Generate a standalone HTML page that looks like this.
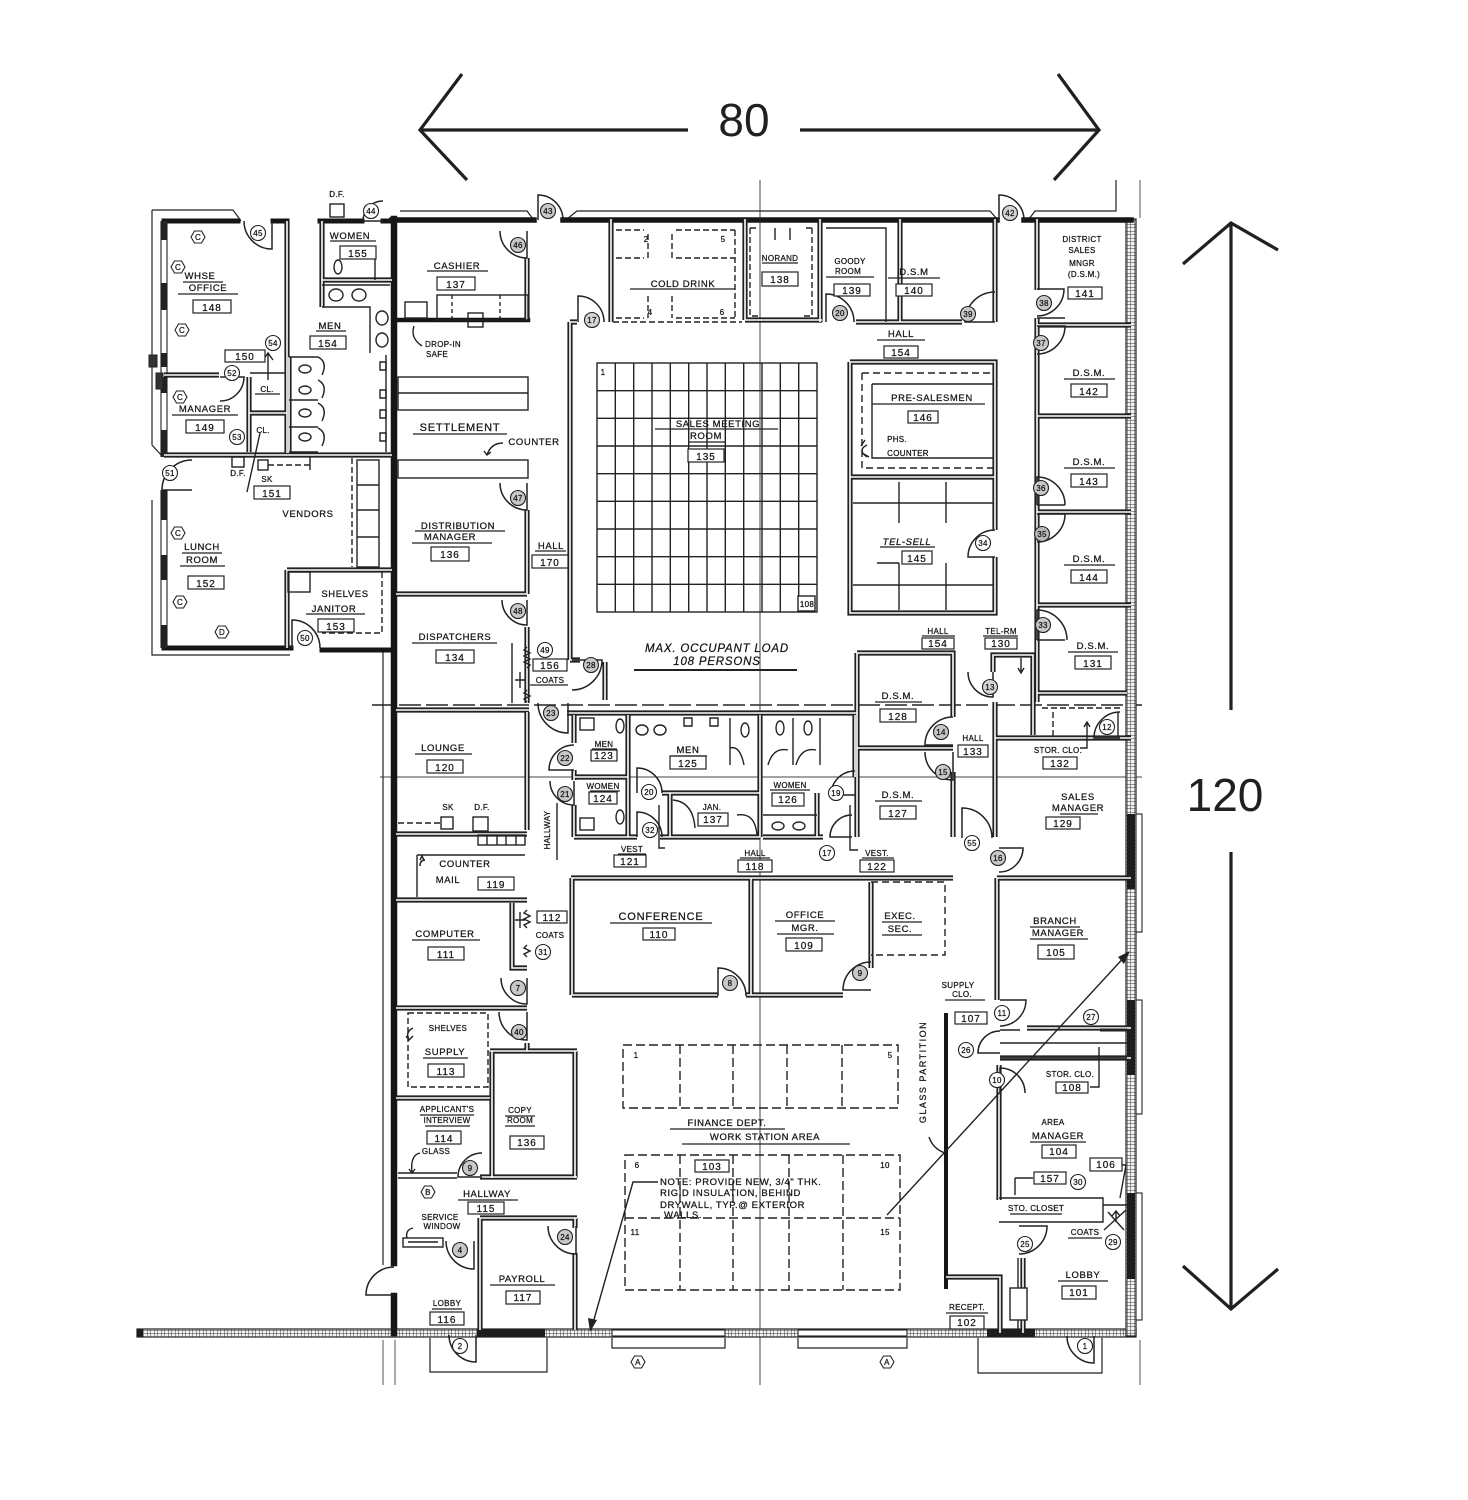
<!DOCTYPE html>
<html><head><meta charset="utf-8">
<style>
html,body{margin:0;padding:0;background:#fff;}
svg{display:block;}
text{font-family:"Liberation Sans",sans-serif;fill:#151515;stroke:#151515;stroke-width:0.25px;}
.l{font-size:11px;letter-spacing:0.8px;text-anchor:middle;}
.s{font-size:9.5px;letter-spacing:0.6px;text-anchor:middle;}
.c{font-size:8px;letter-spacing:0.3px;text-anchor:middle;}
.b{font-size:10px;letter-spacing:1px;text-anchor:middle;}
.i{font-style:italic;}
.big{stroke:none;fill:#231f20;}
</style></head><body>
<svg width="1468" height="1500" viewBox="0 0 1468 1500" xmlns="http://www.w3.org/2000/svg">
<defs>
<pattern id="hx" width="3.5" height="3.5" patternUnits="userSpaceOnUse">
<rect width="3.5" height="3.5" fill="#f4f4f4"/>
<path d="M0,0 V3.5 M0,0 H3.5" stroke="#3a3a3a" stroke-width="1"/>
</pattern>
<path id="dr" d="M0,0 L0,-1 A1,1 0 0 1 1,0" vector-effect="non-scaling-stroke"/>
<g id="dw">
<path d="M287,221 V453 M164,455 H392 M164,375 H219 M249,377 V452 M249,413 H287 M322,221 V307 M322,280 H392 M289,357 V453 M287,570 H392 M287,570 V648"/>
<path d="M527,258 V320 M527,510 V594 M396,594 H527 M527,627 V703 M396,710 H529 M527,712 V830 M396,834 H527 M396,900 H527 M396,1008 H527 M527,1043 V1051 M490,1051 H577 M492,1051 V1178 M575,1051 V1178 M396,1098 H490 M480,1177 H577 M480,1218 H577 M480,1218 V1330 M575,1218 V1228 M575,1253 V1330 M512,903 V968 H527"/>
<path d="M570,322 V660 M570,322 H577 M570,660 H580 M605,662 V700 M611,219 V322 M745,219 V320 M745,320 H822 M820,219 V322 M856,322 H902 M900,219 V322 M902,322 H962 M995,219 V322 M1037,219 V290 M1037,318 V702 M1037,325 H1131 M1037,416 H1131 M1037,512 H1131 M1037,605 H1131 M1037,693 H1127"/>
<path d="M850,362 H995 V530 M995,557 V613 H850 V362 M850,477 H995"/>
<path d="M857,653 V837 M857,653 H953 V717 M953,772 V837 M857,748 H953 M993,672 V655 H1033 V735 M995,702 V837 M995,738 H1131 M997,878 H1131 M997,878 V1000 M1027,1028 H1131 M1000,1058 H1131 M999,1065 V1200 M1023,1258 V1333 M946,1277 H1000 V1333"/>
<path d="M567,713 H857 M574,715 V743 M574,770 V780 M574,805 V837 M574,837 H637 M628,715 V837 M574,777 H628 M662,793 H760 M670,793 V837 M660,837 H760 M760,715 V837 M763,837 H823 M817,793 V837 M855,715 V777"/>
<path d="M571,878 H953 M572,878 V995 M572,995 H718 M746,995 H751 M751,878 V995 M751,995 H843 M871,882 V968"/>
</g>
</defs>

<!-- ======= dimension arrows ======= -->
<g stroke="#231f20" stroke-width="3.2" fill="none">
<path d="M420,130 H688 M800,130 H1099"/>
<path d="M462,74 L420,130 L467,180"/>
<path d="M1058,74 L1099,130 L1054,180"/>
<path d="M1231,224 V710 M1231,852 V1308"/>
<path d="M1183,264 L1231,223 L1278,250"/>
<path d="M1183,1266 L1231,1309 L1278,1269"/>
</g>
<text class="big" x="744" y="136" style="font-size:46px;text-anchor:middle">80</text>
<text class="big" x="1225" y="811" style="font-size:46px;text-anchor:middle">120</text>

<!-- ======= grid / reference lines ======= -->
<g stroke="#444" fill="none">
<path d="M760,180 V1385" stroke-width="1"/>
<path d="M1140,180 V218 M1140,1340 V1385 M395,1340 V1385 M383,1340 V1385" stroke-width="0.9"/>
<path d="M372,705 H1142" stroke-width="1.8" stroke-dasharray="22,5"/>
<path d="M380,777 H1142" stroke-width="0.9"/>
</g>

<!-- ======= exterior ======= -->
<g stroke="#222" fill="none" stroke-width="1.2">
<path d="M400,211 H527 L533,219 M567,219 L577,211 H990 L997,219 M1029,219 L1035,211 H1116 V180"/>
<path d="M152,210 H233 L241,221 M152,210 V445 L163,457 M152,500 V655 H290"/>
<path d="M383,650 V1265"/>
<path d="M430,1338 V1372 H547 V1338 M612,1338 V1348 H725 V1338 M798,1338 V1348 H907 V1338 M978,1338 V1373 H1102 V1338"/>
</g>
<rect x="137" y="1329" width="999" height="8" fill="url(#hx)" stroke="#222" stroke-width="1.2"/>
<rect x="1126" y="219" width="10" height="1117" fill="url(#hx)" stroke="#222" stroke-width="1.2"/>
<g fill="#1d1d1d">
<rect x="477" y="1329" width="68" height="8"/>
<rect x="987" y="1329" width="48" height="8"/>
<rect x="1127" y="814" width="8" height="75"/>
<rect x="1127" y="1000" width="8" height="75"/>
<rect x="1127" y="1193" width="8" height="86"/>
<rect x="137" y="1329" width="6" height="8"/>
</g>
<g fill="#fff" stroke="#222" stroke-width="1.1">
<rect x="1136" y="814" width="6" height="118"/>
<rect x="1136" y="1000" width="6" height="114"/>
<rect x="1136" y="1193" width="6" height="127"/>
<rect x="612" y="1330" width="113" height="6"/>
<rect x="798" y="1330" width="109" height="6"/>
</g>

<!-- heavy walls -->
<g stroke="#161616" fill="none" stroke-linecap="square">
<path d="M392,220 H534 M563,220 H757 M763,220 H997 M1024,220 H1131" stroke-width="5.5"/>
<path d="M394,219 V1263 M394,1296 V1333" stroke-width="6.5"/>
<path d="M164,221 H238 M273,221 H287 M320,221 H362 M383,221 H392" stroke-width="5"/>
<path d="M164,648 H291 M322,650 H394" stroke-width="5"/>
<path d="M396,320 H528" stroke-width="4.5"/>
<path d="M946,1015 V1287" stroke-width="4"/>
</g>
<g stroke="#222" fill="none">
<path d="M161,221 V457 M167,221 V457 M161,490 V648 M167,490 V648" stroke-width="1.1"/>
<path d="M164,221 V240 M164,283 V310 M164,353 V367 M164,377 V393 M164,430 V457 M164,490 V520 M164,555 V580 M164,625 V648" stroke-width="6"/>
<rect x="149" y="355" width="8" height="12" fill="#333"/>
<rect x="156" y="373" width="7" height="16" fill="#333"/>
</g>

<!-- interior double walls -->
<use href="#dw" stroke="#222" stroke-width="5.2" fill="none"/>
<use href="#dw" stroke="#fff" stroke-width="1.6" fill="none"/>

<!-- ======= fixtures / thin lines ======= -->
<g stroke="#222" fill="none" stroke-width="1.4">
<ellipse cx="336" cy="295" rx="7" ry="6"/><ellipse cx="359" cy="295" rx="7" ry="6"/>
<ellipse cx="382" cy="318" rx="6" ry="7"/><ellipse cx="382" cy="340" rx="6" ry="7"/>
<path d="M322,285 H390 M322,307 H370 V353"/>
<path d="M289,357 H318 M289,400 H318 M289,427 H318 M289,452 H318 M386,355 V452"/>
<ellipse cx="305" cy="369" rx="6" ry="4"/><ellipse cx="305" cy="390" rx="6" ry="4"/><ellipse cx="305" cy="413" rx="6" ry="4"/><ellipse cx="305" cy="437" rx="6" ry="4"/>
<path d="M318,357 q10,5 4,18 M318,380 q10,5 4,18 M318,403 q10,5 4,18 M318,428 q10,5 4,18"/>
<path d="M380,362 h6 v8 h-6z M380,390 h6 v8 h-6z M380,410 h6 v8 h-6z M380,433 h6 v8 h-6z"/>
<ellipse cx="338" cy="267" rx="4" ry="7"/><path d="M346,255 H375 V280"/>
<rect x="330" y="204" width="14" height="13"/>
<path d="M352,458 V567" stroke-dasharray="6,3"/>
<rect x="357" y="460" width="22" height="107"/><path d="M357,485 H379 M357,510 H379 M357,537 H379"/>
<rect x="288" y="572" width="22" height="20"/>
<path d="M382,572 V633 H322" stroke-dasharray="6,3"/>
<rect x="232" y="457" width="12" height="10"/><rect x="258" y="460" width="10" height="10"/>
<path d="M268,465 H310" stroke-dasharray="6,3"/><path d="M310,457 V470"/>
<path d="M247,492 L260,433"/>
<path d="M268,353 V380 M263,360 L268,353 L273,360"/>
<path d="M250,373 H285"/>
<rect x="405" y="302" width="22" height="16"/>
<rect x="437" y="295" width="91" height="25"/>
<path d="M452,295 V320 M500,295 V320" stroke-dasharray="4,3"/>
<rect x="468" y="313" width="15" height="14"/>
<path d="M414,326 q-4,12 8,20"/>
<rect x="398" y="377" width="130" height="33"/><path d="M398,393 H528"/>
<rect x="398" y="460" width="130" height="18"/>
<path d="M503,443 q-12,0 -16,12 M484,451 l3,4 l4,-3"/>
<path d="M512,643 V703 M527,647 l-3,3 l6,3 l-6,3 l6,3 l-6,3 l6,3 l-3,3 M527,690 l-3,3 l6,3 l-6,3 l3,3"/>
<path d="M515,680 h10 M520,672 v16"/>
<path d="M527,910 l-3,3 l6,3 l-6,3 l6,3 l-6,3 l3,3 M527,945 l-3,3 l6,3 l-6,3 l3,3 M515,920 h10 M520,912 v16"/>
<path d="M613,322 H742" stroke-dasharray="6,3"/>
<path d="M616,230 H644 M676,230 H735 M648,234 V258 M672,234 V258 M616,258 H644 M676,258 H735 M648,296 V318 M672,296 V318 M616,318 H644 M676,318 H735 M735,230 V318" stroke-dasharray="6,3"/>
<path d="M750,228 V316 H758 M812,228 V316 H804 M750,228 H758 M812,228 H804" stroke-dasharray="6,3"/>
<path d="M775,228 V240 M790,228 V240"/>
<path d="M826,228 H886 V322"/>
<rect x="597" y="363" width="220" height="249"/>
<path d="M615.3,363 V612 M633.7,363 V612 M652,363 V612 M670.3,363 V612 M688.7,363 V612 M707,363 V612 M725.3,363 V612 M743.7,363 V612 M762,363 V612 M780.3,363 V612 M798.7,363 V612"/>
<path d="M597,390.7 H817 M597,418.3 H817 M597,446 H817 M597,473.7 H817 M597,501.3 H817 M597,529 H817 M597,556.7 H817 M597,584.3 H817"/>
<rect x="798" y="596" width="17" height="15" fill="#fff"/>
<path d="M862,373 H993 M862,373 V468 H993" stroke-dasharray="7,4"/>
<path d="M872,384 H993 M872,384 V458 H993"/>
<path d="M867,445 q-10,5 0,12 M869,457 l-5,-3 M865,440 l-4,6"/>
<path d="M853,503 H993 M899,482 V523 M946,482 V523 M853,585 H993 M899,563 V610 M946,563 V610 M877,563 H899"/>
<path d="M1037,318 H1065 M1037,505 H1065 M1037,640 H1065"/>
<path d="M1021,658 V673 M1018,668 l3,5 l3,-5"/>
<path d="M1053,712 V737 M1042,708 H1120" stroke-dasharray="6,3"/>
<path d="M1087,722 V748 H1080 M1084,727 l3,-5 l3,5"/>
<path d="M1118,712 V738"/>
<rect x="580" y="718" width="14" height="12"/><ellipse cx="620" cy="726" rx="4" ry="7"/>
<rect x="580" y="818" width="14" height="12"/><ellipse cx="620" cy="817" rx="4" ry="7"/>
<ellipse cx="642" cy="730" rx="6" ry="5"/><ellipse cx="660" cy="730" rx="6" ry="5"/>
<path d="M684,718 h8 v8 h-8z M710,718 h8 v8 h-8z"/>
<path d="M730,718 V765 M730,748 q10,-3 14,17"/>
<ellipse cx="745" cy="730" rx="4" ry="7"/>
<ellipse cx="780" cy="728" rx="4" ry="7"/><ellipse cx="808" cy="728" rx="4" ry="7"/>
<path d="M793,718 V765 M820,718 V765 M768,765 q5,-18 20,-15 M796,765 q5,-18 20,-15"/>
<path d="M763,815 H817"/>
<ellipse cx="778" cy="826" rx="6" ry="4"/><ellipse cx="799" cy="826" rx="6" ry="4"/>
<path d="M673,800 q20,2 22,28 M737,815 q18,-3 20,20"/>
<path d="M659,805 V848 H665" />
<path d="M850,805 V850 H858"/>
<path d="M398,823 H440" stroke-dasharray="6,3"/>
<rect x="441" y="817" width="12" height="12"/><rect x="473" y="817" width="15" height="14"/>
<rect x="478" y="835" width="47" height="10"/><path d="M487,835 V845 M497,835 V845 M506,835 V845 M516,835 V845"/>
<path d="M417,855 V897 M417,855 H525"/>
<path d="M420,866 q0,-6 5,-6 M420,860 l2,-4 l2,4"/>
<rect x="408" y="1013" width="80" height="74" stroke-dasharray="6,3"/>
<path d="M409,1040 q-4,-8 4,-12 M406,1036 l3,4 l4,-4"/>
<path d="M398,1173 H457 M398,1178 H457"/>
<path d="M420,1153 q-10,2 -8,20 M409,1169 l3,4 l3,-4"/>
<rect x="403" y="1238" width="40" height="9"/><path d="M408,1242 H438"/>
<path d="M413,1228 q-8,2 -6,10"/>
<path d="M557,803 V860"/>
<path d="M871,882 H945 V955 H871" stroke-dasharray="7,4"/>
<g stroke-dasharray="9,4">
<path d="M623,1045 H898 V1108 H623 Z M680,1045 V1108 M733,1045 V1108 M787,1045 V1108 M842,1045 V1108"/>
<path d="M625,1155 H900 V1290 H625 Z M625,1218 H900 M680,1155 V1290 M733,1155 V1290 M789,1155 V1290 M843,1155 V1290"/>
</g>
<path d="M999,1198 H1103 V1222 H999 M1103,1205 H1127"/>
<path d="M1015,1178 H1033 M1015,1178 V1195"/>
<path d="M1122,1165 H1126 L1120,1198"/>
<path d="M1104,1230 L1126,1210 M1108,1212 L1124,1230 M1116,1222 V1212 M1112,1216 l4,-5 l4,5"/>
<rect x="1010" y="1288" width="17" height="32" fill="#fff"/>
<path d="M1018,1258 V1288 M1018,1320 V1333"/>
<path d="M1000,1030 H1020 M1000,1043 H1127 M1000,1058 H1127" />
<path d="M1099,1047 V1087 H1090"/>
<path d="M1100,1030 H1127" stroke-width="3"/>
<path d="M929,1137 q4,12 16,16"/>
</g>

<g stroke="#222" fill="none" stroke-width="1.4">
<path d="M887,1215 L1128,953"/>
<path d="M658,1182 H633 L591,1330"/>
</g>
<g fill="#222">
<path d="M1130,951 L1118,957 L1124,964 Z"/>
<path d="M590,1332 L588,1318 L597,1320 Z"/>
</g>

<!-- ======= doors ======= -->
<g stroke="#222" fill="none" stroke-width="1.5">
<use href="#dr" transform="translate(272,221) rotate(180) scale(28)"/>
<use href="#dr" transform="translate(383,221) rotate(270) scale(20)"/>
<use href="#dr" transform="translate(538,220) rotate(0) scale(25)"/>
<use href="#dr" transform="translate(999,220) rotate(0) scale(25)"/>
<use href="#dr" transform="translate(527,231) rotate(180) scale(27)"/>
<use href="#dr" transform="translate(578,322) rotate(0) scale(26)"/>
<use href="#dr" transform="translate(527,483) rotate(180) scale(27)"/>
<use href="#dr" transform="translate(527,600) rotate(180) scale(25)"/>
<use href="#dr" transform="translate(572,660) rotate(90) scale(30)"/>
<use href="#dr" transform="translate(568,703) rotate(180) scale(30)"/>
<use href="#dr" transform="translate(574,770) rotate(270) scale(25)"/>
<use href="#dr" transform="translate(574,781) rotate(180) scale(24)"/>
<use href="#dr" transform="translate(637,793) rotate(0) scale(25)"/>
<use href="#dr" transform="translate(637,837) rotate(0) scale(25)"/>
<use href="#dr" transform="translate(855,795) rotate(270) scale(24)"/>
<use href="#dr" transform="translate(852,837) rotate(270) scale(22)"/>
<use href="#dr" transform="translate(953,745) rotate(270) scale(28)"/>
<use href="#dr" transform="translate(953,752) rotate(180) scale(28)"/>
<use href="#dr" transform="translate(993,672) rotate(180) scale(25)"/>
<use href="#dr" transform="translate(1120,738) rotate(270) scale(26)"/>
<use href="#dr" transform="translate(962,838) rotate(0) scale(30)"/>
<use href="#dr" transform="translate(999,848) rotate(90) scale(24)"/>
<use href="#dr" transform="translate(718,996) rotate(0) scale(28)"/>
<use href="#dr" transform="translate(871,990) rotate(270) scale(28)"/>
<use href="#dr" transform="translate(527,978) rotate(180) scale(26)"/>
<use href="#dr" transform="translate(527,1012) rotate(180) scale(28)"/>
<use href="#dr" transform="translate(482,1177) rotate(270) scale(24)"/>
<use href="#dr" transform="translate(474,1241) rotate(180) scale(28)"/>
<use href="#dr" transform="translate(576,1226) rotate(180) scale(28)"/>
<use href="#dr" transform="translate(476,1335) rotate(180) scale(27)"/>
<use href="#dr" transform="translate(1094,1336) rotate(180) scale(27)"/>
<use href="#dr" transform="translate(1000,1000) rotate(90) scale(26)"/>
<use href="#dr" transform="translate(1000,1053) rotate(270) scale(22)"/>
<use href="#dr" transform="translate(1000,1093) rotate(0) scale(25)"/>
<use href="#dr" transform="translate(1019,1226) rotate(90) scale(28)"/>
<use href="#dr" transform="translate(1037,289) rotate(90) scale(27)"/>
<use href="#dr" transform="translate(1037,326) rotate(90) scale(28)"/>
<use href="#dr" transform="translate(995,322) rotate(270) scale(30)"/>
<use href="#dr" transform="translate(826,322) rotate(0) scale(28)"/>
<use href="#dr" transform="translate(1037,505) rotate(0) scale(28)"/>
<use href="#dr" transform="translate(1037,514) rotate(90) scale(28)"/>
<use href="#dr" transform="translate(1037,640) rotate(0) scale(30)"/>
<use href="#dr" transform="translate(995,557) rotate(270) scale(27)"/>
<use href="#dr" transform="translate(220,377) rotate(90) scale(24)"/>
<use href="#dr" transform="translate(192,490) rotate(270) scale(30)"/>
<use href="#dr" transform="translate(292,648) rotate(0) scale(28)"/>
<use href="#dr" transform="translate(394,1295) rotate(270) scale(28)"/>
</g>

<!-- door number circles -->
<g stroke="#222" fill="#fff" stroke-width="1.1">
<circle cx="258" cy="233" r="7.5"/><circle cx="371" cy="211" r="7.5"/><circle cx="273" cy="343" r="7.5"/>
<circle cx="232" cy="373" r="7.5"/><circle cx="237" cy="437" r="7.5"/><circle cx="170" cy="473" r="7.5"/>
<circle cx="305" cy="638" r="7.5"/><circle cx="548" cy="211" r="7.5" fill="#c8c8c8"/><circle cx="518" cy="245" r="7.5" fill="#c8c8c8"/>
<circle cx="592" cy="320" r="7.5" fill="#d4d4d4"/><circle cx="518" cy="498" r="7.5" fill="#c8c8c8"/><circle cx="518" cy="611" r="7.5" fill="#c8c8c8"/>
<circle cx="545" cy="650" r="7.5"/><circle cx="591" cy="665" r="7.5" fill="#c8c8c8"/><circle cx="551" cy="713" r="7.5" fill="#c8c8c8"/>
<circle cx="565" cy="758" r="7.5" fill="#c8c8c8"/><circle cx="565" cy="794" r="7.5" fill="#c8c8c8"/><circle cx="649" cy="792" r="7.5"/>
<circle cx="650" cy="830" r="7.5"/><circle cx="836" cy="793" r="7.5"/><circle cx="827" cy="853" r="7.5"/>
<circle cx="941" cy="732" r="7.5" fill="#c8c8c8"/><circle cx="943" cy="772" r="7.5" fill="#c8c8c8"/><circle cx="990" cy="687" r="7.5" fill="#d4d4d4"/>
<circle cx="1107" cy="727" r="7.5"/><circle cx="972" cy="843" r="7.5"/><circle cx="998" cy="858" r="7.5" fill="#c8c8c8"/>
<circle cx="730" cy="983" r="7.5" fill="#c8c8c8"/><circle cx="860" cy="973" r="7.5" fill="#c8c8c8"/><circle cx="543" cy="952" r="7.5"/>
<circle cx="518" cy="988" r="7.5" fill="#c8c8c8"/><circle cx="519" cy="1032" r="7.5" fill="#c8c8c8"/><circle cx="470" cy="1168" r="7.5" fill="#c8c8c8"/>
<circle cx="460" cy="1250" r="7.5" fill="#c8c8c8"/><circle cx="565" cy="1237" r="7.5" fill="#c8c8c8"/><circle cx="460" cy="1346" r="7.5"/>
<circle cx="1002" cy="1013" r="7.5"/><circle cx="966" cy="1050" r="7.5"/><circle cx="1091" cy="1017" r="7.5"/>
<circle cx="997" cy="1080" r="7.5"/><circle cx="1078" cy="1182" r="7.5"/><circle cx="1025" cy="1244" r="7.5"/>
<circle cx="1113" cy="1242" r="7.5"/><circle cx="1085" cy="1346" r="7.5"/><circle cx="1010" cy="213" r="7.5" fill="#d4d4d4"/>
<circle cx="1044" cy="303" r="7.5" fill="#c8c8c8"/><circle cx="1041" cy="343" r="7.5" fill="#c8c8c8"/><circle cx="968" cy="314" r="7.5" fill="#c8c8c8"/>
<circle cx="840" cy="313" r="7.5" fill="#c8c8c8"/><circle cx="1041" cy="488" r="7.5" fill="#c8c8c8"/><circle cx="1042" cy="534" r="7.5" fill="#b8b8b8"/>
<circle cx="1043" cy="625" r="7.5" fill="#c8c8c8"/><circle cx="983" cy="543" r="7.5"/>
</g>
<g>
<text class="c" x="258" y="236">45</text><text class="c" x="371" y="214">44</text><text class="c" x="273" y="346">54</text>
<text class="c" x="232" y="376">52</text><text class="c" x="237" y="440">53</text><text class="c" x="170" y="476">51</text>
<text class="c" x="305" y="641">50</text><text class="c" x="548" y="214">43</text><text class="c" x="518" y="248">46</text>
<text class="c" x="592" y="323">17</text><text class="c" x="518" y="501">47</text><text class="c" x="518" y="614">48</text>
<text class="c" x="545" y="653">49</text><text class="c" x="591" y="668">28</text><text class="c" x="551" y="716">23</text>
<text class="c" x="565" y="761">22</text><text class="c" x="565" y="797">21</text><text class="c" x="649" y="795">20</text>
<text class="c" x="650" y="833">32</text><text class="c" x="836" y="796">19</text><text class="c" x="827" y="856">17</text>
<text class="c" x="941" y="735">14</text><text class="c" x="943" y="775">15</text><text class="c" x="990" y="690">13</text>
<text class="c" x="1107" y="730">12</text><text class="c" x="972" y="846">55</text><text class="c" x="998" y="861">16</text>
<text class="c" x="730" y="986">8</text><text class="c" x="860" y="976">9</text><text class="c" x="543" y="955">31</text>
<text class="c" x="518" y="991">7</text><text class="c" x="519" y="1035">40</text><text class="c" x="470" y="1171">9</text>
<text class="c" x="460" y="1253">4</text><text class="c" x="565" y="1240">24</text><text class="c" x="460" y="1349">2</text>
<text class="c" x="1002" y="1016">11</text><text class="c" x="966" y="1053">26</text><text class="c" x="1091" y="1020">27</text>
<text class="c" x="997" y="1083">10</text><text class="c" x="1078" y="1185">30</text><text class="c" x="1025" y="1247">25</text>
<text class="c" x="1113" y="1245">29</text><text class="c" x="1085" y="1349">1</text><text class="c" x="1010" y="216">42</text>
<text class="c" x="1044" y="306">38</text><text class="c" x="1041" y="346">37</text><text class="c" x="968" y="317">39</text>
<text class="c" x="840" y="316">20</text><text class="c" x="1041" y="491">36</text><text class="c" x="1042" y="537">35</text>
<text class="c" x="1043" y="628">33</text><text class="c" x="983" y="546">34</text>
</g>

<!-- hexagon tags -->
<g stroke="#222" fill="#fff" stroke-width="1.1">
<path d="M191,237 l3.5,-6 h7 l3.5,6 l-3.5,6 h-7z"/>
<path d="M171,267 l3.5,-6 h7 l3.5,6 l-3.5,6 h-7z"/>
<path d="M175,330 l3.5,-6 h7 l3.5,6 l-3.5,6 h-7z"/>
<path d="M173,397 l3.5,-6 h7 l3.5,6 l-3.5,6 h-7z"/>
<path d="M171,533 l3.5,-6 h7 l3.5,6 l-3.5,6 h-7z"/>
<path d="M173,602 l3.5,-6 h7 l3.5,6 l-3.5,6 h-7z"/>
<path d="M215,632 l3.5,-6 h7 l3.5,6 l-3.5,6 h-7z"/>
<path d="M421,1192 l3.5,-6 h7 l3.5,6 l-3.5,6 h-7z"/>
<path d="M631,1362 l3.5,-6 h7 l3.5,6 l-3.5,6 h-7z"/>
<path d="M880,1362 l3.5,-6 h7 l3.5,6 l-3.5,6 h-7z"/>
</g>
<g>
<text class="c" x="198" y="240">C</text><text class="c" x="178" y="270">C</text><text class="c" x="182" y="333">C</text>
<text class="c" x="180" y="400">C</text><text class="c" x="178" y="536">C</text><text class="c" x="180" y="605">C</text>
<text class="c" x="222" y="635">D</text><text class="c" x="428" y="1195">B</text><text class="c" x="638" y="1365">A</text>
<text class="c" x="887" y="1365">A</text>
</g>

<!-- number boxes -->
<g stroke="#222" fill="#fff" stroke-width="1.2">
<rect x="193" y="300" width="38" height="13"/><rect x="225" y="350" width="40" height="12"/>
<rect x="186" y="420" width="38" height="13"/><rect x="254" y="486" width="36" height="13"/>
<rect x="188" y="576" width="36" height="13"/><rect x="318" y="619" width="36" height="13"/>
<rect x="340" y="246" width="36" height="13"/><rect x="310" y="336" width="36" height="13"/>
<rect x="437" y="277" width="38" height="13"/><rect x="431" y="547" width="38" height="14"/>
<rect x="532" y="555" width="36" height="13"/><rect x="436" y="650" width="38" height="13"/>
<rect x="533" y="659" width="34" height="12"/><rect x="762" y="272" width="36" height="14"/>
<rect x="834" y="284" width="36" height="12"/><rect x="896" y="284" width="36" height="12"/>
<rect x="1068" y="287" width="34" height="12"/><rect x="884" y="346" width="34" height="12"/>
<rect x="908" y="411" width="30" height="12"/><rect x="688" y="449" width="36" height="13"/>
<rect x="902" y="551" width="30" height="13"/><rect x="1071" y="384" width="36" height="13"/>
<rect x="1071" y="474" width="36" height="13"/><rect x="1071" y="570" width="36" height="13"/>
<rect x="1075" y="656" width="36" height="13"/><rect x="922" y="638" width="32" height="11"/>
<rect x="985" y="638" width="32" height="11"/><rect x="880" y="709" width="36" height="13"/>
<rect x="958" y="745" width="30" height="12"/><rect x="880" y="806" width="36" height="13"/>
<rect x="1043" y="757" width="34" height="12"/><rect x="1046" y="817" width="34" height="12"/>
<rect x="591" y="750" width="26" height="11"/><rect x="589" y="792" width="28" height="12"/>
<rect x="670" y="756" width="36" height="13"/><rect x="698" y="813" width="30" height="13"/>
<rect x="772" y="793" width="32" height="13"/><rect x="614" y="855" width="32" height="12"/>
<rect x="738" y="860" width="34" height="12"/><rect x="860" y="860" width="34" height="12"/>
<rect x="643" y="928" width="32" height="12"/><rect x="786" y="938" width="36" height="13"/>
<rect x="1038" y="945" width="36" height="14"/><rect x="955" y="1012" width="32" height="12"/>
<rect x="1056" y="1082" width="32" height="11"/><rect x="1042" y="1145" width="34" height="13"/>
<rect x="1090" y="1158" width="32" height="13"/><rect x="1034" y="1172" width="32" height="12"/>
<rect x="1062" y="1286" width="34" height="13"/><rect x="950" y="1316" width="34" height="13"/>
<rect x="695" y="1160" width="34" height="12"/><rect x="427" y="760" width="36" height="13"/>
<rect x="478" y="877" width="36" height="13"/><rect x="537" y="911" width="30" height="12"/>
<rect x="428" y="947" width="36" height="13"/><rect x="428" y="1064" width="36" height="13"/>
<rect x="427" y="1131" width="34" height="13"/><rect x="510" y="1136" width="34" height="13"/>
<rect x="468" y="1202" width="36" height="12"/><rect x="506" y="1291" width="34" height="13"/>
<rect x="430" y="1312" width="34" height="13"/>
</g>
<g>
<text class="b" x="212" y="311">148</text><text class="b" x="245" y="360">150</text><text class="b" x="205" y="431">149</text>
<text class="b" x="272" y="497">151</text><text class="b" x="206" y="587">152</text><text class="b" x="336" y="630">153</text>
<text class="b" x="358" y="257">155</text><text class="b" x="328" y="347">154</text><text class="b" x="456" y="288">137</text>
<text class="b" x="450" y="558">136</text><text class="b" x="550" y="566">170</text><text class="b" x="455" y="661">134</text>
<text class="b" x="550" y="669">156</text><text class="b" x="780" y="283">138</text><text class="b" x="852" y="294">139</text>
<text class="b" x="914" y="294">140</text><text class="b" x="1085" y="297">141</text><text class="b" x="901" y="356">154</text>
<text class="b" x="923" y="421">146</text><text class="b" x="706" y="460">135</text><text class="b" x="917" y="562">145</text>
<text class="b" x="1089" y="395">142</text><text class="b" x="1089" y="485">143</text><text class="b" x="1089" y="581">144</text>
<text class="b" x="1093" y="667">131</text><text class="b" x="938" y="647">154</text><text class="b" x="1001" y="647">130</text>
<text class="b" x="898" y="720">128</text><text class="b" x="973" y="755">133</text><text class="b" x="898" y="817">127</text>
<text class="b" x="1060" y="767">132</text><text class="b" x="1063" y="827">129</text><text class="b" x="604" y="759">123</text>
<text class="b" x="603" y="802">124</text><text class="b" x="688" y="767">125</text><text class="b" x="713" y="823">137</text>
<text class="b" x="788" y="803">126</text><text class="b" x="630" y="865">121</text><text class="b" x="755" y="870">118</text>
<text class="b" x="877" y="870">122</text><text class="b" x="659" y="938">110</text><text class="b" x="804" y="949">109</text>
<text class="b" x="1056" y="956">105</text><text class="b" x="971" y="1022">107</text><text class="b" x="1072" y="1091">108</text>
<text class="b" x="1059" y="1155">104</text><text class="b" x="1106" y="1168">106</text><text class="b" x="1050" y="1182">157</text>
<text class="b" x="1079" y="1296">101</text><text class="b" x="967" y="1326">102</text><text class="b" x="712" y="1170">103</text>
<text class="b" x="445" y="771">120</text><text class="b" x="496" y="888">119</text><text class="b" x="552" y="921">112</text>
<text class="b" x="446" y="958">111</text><text class="b" x="446" y="1075">113</text><text class="b" x="444" y="1142">114</text>
<text class="b" x="527" y="1146">136</text><text class="b" x="486" y="1212">115</text><text class="b" x="523" y="1301">117</text>
<text class="b" x="447" y="1323">116</text>
<text class="c" x="807" y="607">108</text>
</g>

<!-- room labels -->
<g>
<text class="s" x="200" y="279">WHSE</text><text class="s" x="208" y="291">OFFICE</text>
<text class="s" x="205" y="412">MANAGER</text>
<text class="c" x="267" y="392">CL.</text><text class="c" x="263" y="433">CL.</text>
<text class="c" x="238" y="476">D.F.</text><text class="c" x="267" y="482">SK</text>
<text class="s" x="308" y="517">VENDORS</text>
<text class="s" x="202" y="550">LUNCH</text><text class="s" x="202" y="563">ROOM</text>
<text class="s" x="345" y="597">SHELVES</text><text class="s" x="334" y="612">JANITOR</text>
<text class="s" x="350" y="239">WOMEN</text><text class="s" x="330" y="329">MEN</text>
<text class="c" x="337" y="197">D.F.</text>

<text class="s" x="457" y="269">CASHIER</text>
<text class="c" x="443" y="347">DROP-IN</text><text class="c" x="437" y="357">SAFE</text>
<text class="l" x="460" y="431">SETTLEMENT</text>
<text class="s" x="534" y="445">COUNTER</text>
<text class="s" x="458" y="529">DISTRIBUTION</text><text class="s" x="450" y="540">MANAGER</text>
<text class="s" x="551" y="549">HALL</text>
<text class="s" x="455" y="640">DISPATCHERS</text>
<text class="c" x="550" y="683">COATS</text>

<text class="s" x="683" y="287">COLD DRINK</text>
<text class="c" x="646" y="242">2</text><text class="c" x="723" y="242">5</text><text class="c" x="650" y="315">4</text><text class="c" x="722" y="315">6</text>
<text class="c" x="780" y="261">NORAND</text>
<text class="c" x="850" y="264">GOODY</text><text class="c" x="848" y="274">ROOM</text>
<text class="s" x="914" y="275">D.S.M</text>
<text class="c" x="1082" y="242">DISTRICT</text><text class="c" x="1082" y="253">SALES</text>
<text class="c" x="1082" y="266">MNGR</text><text class="c" x="1084" y="277">(D.S.M.)</text>
<text class="s" x="901" y="337">HALL</text>
<text class="s" x="932" y="401">PRE-SALESMEN</text>
<text class="c" x="897" y="442">PHS.</text><text class="c" x="908" y="456">COUNTER</text>
<text class="s" x="718" y="427">SALES MEETING</text><text class="s" x="706" y="439">ROOM</text>
<text class="c" x="603" y="375">1</text>
<text class="s i" x="907" y="545">TEL-SELL</text>
<text class="i" x="717" y="652" style="font-size:11.5px;letter-spacing:0.8px;text-anchor:middle">MAX. OCCUPANT LOAD</text>
<text class="i" x="717" y="665" style="font-size:11.5px;letter-spacing:0.8px;text-anchor:middle">108 PERSONS</text>
<text class="s" x="1089" y="376">D.S.M.</text><text class="s" x="1089" y="465">D.S.M.</text>
<text class="s" x="1089" y="562">D.S.M.</text><text class="s" x="1093" y="649">D.S.M.</text>
<text class="c" x="938" y="634">HALL</text><text class="c" x="1001" y="634">TEL-RM</text>
<text class="s" x="898" y="699">D.S.M.</text><text class="c" x="973" y="741">HALL</text>
<text class="s" x="898" y="798">D.S.M.</text>
<text class="c" x="1058" y="753">STOR. CLO.</text>
<text class="s" x="1078" y="800">SALES</text><text class="s" x="1078" y="811">MANAGER</text>
<text class="c" x="604" y="747">MEN</text><text class="c" x="603" y="789">WOMEN</text>
<text class="s" x="688" y="753">MEN</text><text class="c" x="712" y="810">JAN.</text>
<text class="c" x="790" y="788">WOMEN</text>
<text class="c" x="632" y="852">VEST</text><text class="c" x="755" y="856">HALL</text><text class="c" x="877" y="856">VEST.</text>
<text class="c" transform="translate(550,830) rotate(-90)">HALLWAY</text>
<text class="l" x="661" y="920">CONFERENCE</text>
<text class="s" x="805" y="918">OFFICE</text><text class="s" x="805" y="931">MGR.</text>
<text class="s" x="900" y="919">EXEC.</text><text class="s" x="900" y="932">SEC.</text>
<text class="s" x="1055" y="924">BRANCH</text><text class="s" x="1058" y="936">MANAGER</text>
<text class="c" x="958" y="988">SUPPLY</text><text class="c" x="962" y="997">CLO.</text>
<text class="c" x="1070" y="1077">STOR. CLO.</text>
<text class="c" x="1053" y="1125">AREA</text><text class="s" x="1058" y="1139">MANAGER</text>
<text class="c" x="1036" y="1211">STO. CLOSET</text>
<text class="c" x="1085" y="1235">COATS</text>
<text class="s" x="1083" y="1278">LOBBY</text>
<text class="c" x="967" y="1310">RECEPT.</text>
<text class="s" x="727" y="1126">FINANCE DEPT.</text>
<text class="s" x="765" y="1140">WORK STATION AREA</text>
<text class="c" x="637" y="1168">6</text><text class="c" x="885" y="1168">10</text>
<text class="c" x="635" y="1235">11</text><text class="c" x="885" y="1235">15</text>
<text class="c" x="636" y="1058">1</text><text class="c" x="890" y="1058">5</text>
<text x="660" y="1185" style="font-size:9.5px;letter-spacing:0.6px">NOTE: PROVIDE NEW, 3/4" THK.</text>
<text x="660" y="1196" style="font-size:9.5px;letter-spacing:0.6px">RIGID INSULATION, BEHIND</text>
<text x="660" y="1208" style="font-size:9.5px;letter-spacing:0.6px">DRYWALL, TYP.@ EXTERIOR</text>
<text x="664" y="1218" style="font-size:9.5px;letter-spacing:0.6px">WALLS.</text>
<text class="c" transform="translate(926,1072) rotate(-90)" style="font-size:9px;letter-spacing:1.5px">GLASS PARTITION</text>
<text class="s" x="443" y="751">LOUNGE</text>
<text class="c" x="448" y="810">SK</text><text class="c" x="482" y="810">D.F.</text>
<text class="s" x="465" y="867">COUNTER</text><text class="s" x="448" y="883">MAIL</text>
<text class="c" x="550" y="938">COATS</text>
<text class="s" x="445" y="937">COMPUTER</text>
<text class="c" x="448" y="1031">SHELVES</text>
<text class="s" x="445" y="1055">SUPPLY</text>
<text class="c" x="447" y="1112">APPLICANT'S</text><text class="c" x="447" y="1123">INTERVIEW</text>
<text class="c" x="520" y="1113">COPY</text><text class="c" x="520" y="1123">ROOM</text>
<text class="c" x="436" y="1154">GLASS</text>
<text class="s" x="487" y="1197">HALLWAY</text>
<text class="c" x="440" y="1220">SERVICE</text><text class="c" x="442" y="1229">WINDOW</text>
<text class="s" x="522" y="1282">PAYROLL</text>
<text class="c" x="447" y="1306">LOBBY</text>
</g>

<!-- underlines -->
<g stroke="#222" stroke-width="1.2" fill="none">
<path d="M183,282 H223 M178,294 H238 M172,415 H238 M255,394 H280 M182,553 H222 M180,566 H225 M306,614 H365 M330,241 H376 M316,331 H346"/>
<path d="M427,271 H488 M413,434 H507 M415,531 H505 M412,543 H492 M535,551 H566 M412,643 H497 M530,685 H568"/>
<path d="M630,289 H735 M762,263 H798 M826,277 H874 M888,278 H940 M877,340 H925 M872,404 H985 M655,429 H778 M688,442 H725 M880,547 H935"/>
<path d="M634,670 H797" stroke-width="2"/>
<path d="M1064,379 H1115 M1064,468 H1115 M1064,565 H1115 M1068,652 H1118 M922,636 H955 M983,636 H1018 M875,702 H922 M875,801 H922 M1060,814 H1098"/>
<path d="M592,749 H617 M590,791 H620 M670,756 H707 M770,790 H810 M618,854 H646 M740,858 H770 M862,858 H894"/>
<path d="M610,923 H712 M775,921 H835 M777,934 H834 M882,922 H922 M882,935 H922 M1030,927 H1080 M1030,939 H1088 M945,1000 H985"/>
<path d="M1030,1142 H1086 M1010,1214 H1062 M1068,1238 H1102 M1058,1281 H1108 M946,1313 H988"/>
<path d="M670,1129 H785 M682,1144 H850"/>
<path d="M415,754 H472 M412,940 H480 M423,1058 H468 M420,1115 H474 M425,1126 H470 M505,1116 H535 M505,1126 H535 M458,1200 H518 M490,1285 H555 M432,1309 H462"/>
</g>
</svg>
</body></html>
